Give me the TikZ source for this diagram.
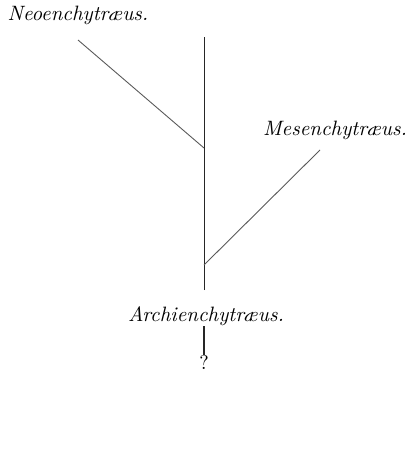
\documentclass[tikz,border=0pt]{standalone}
\usepackage{fontspec}
\usetikzlibrary{positioning}

\begin{document}
\begin{tikzpicture}[x=0.5pt, y=-0.5pt, node distance=2pt, auto]
        \useasboundingbox (0,0) rectangle (405,466);
        \tikzset{genus/.style={inner sep=0pt, font=\itshape, scale=1.04}, branch/.style={draw=black!65, line width=0.45pt}}
        \node [genus] (neo) at (78,15) {Neoenchytræus.};
        \node [genus] (mes) at (335,130) {Mesenchytræus.};
        \node [genus] (archi) at (206,316) {Archienchytræus.};
        \node [inner sep=0pt] (q) at (204,362) {?};
        \coordinate (top) at (204,37);
        \coordinate (base) at (204,290);
        \coordinate (neoend) at (78,40);
        \coordinate (mesend) at (320,150);
        \coordinate (split1) at (204,148);
        \coordinate (split2) at (204,265);
        \coordinate (stem) at (204,326);

        \draw [branch, draw=black!85] (base) -- (top);
        \draw [branch] (neoend) -- (split1);
        \draw [branch] (mesend) -- (split2);
        \draw [branch, draw=black!85, line width=0.6pt] (stem) -- (q.north);
    \end{tikzpicture}
\end{document}
